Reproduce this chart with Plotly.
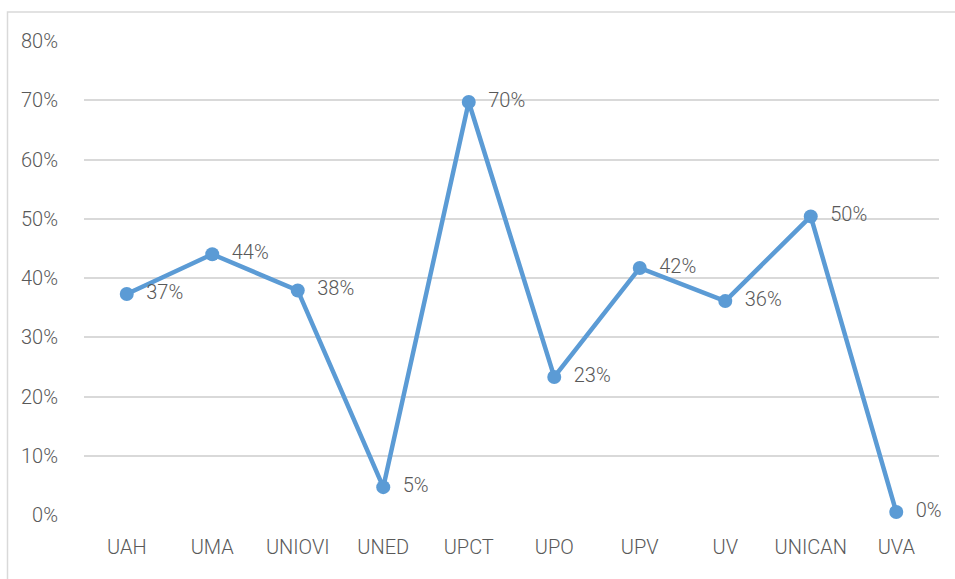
import plotly.graph_objects as go

categories = ["UAH", "UMA", "UNIOVI", "UNED", "UPCT", "UPO", "UPV", "UV", "UNICAN", "UVA"]
values = [0.373, 0.44, 0.379, 0.047, 0.697, 0.233, 0.417, 0.361, 0.504, 0.005]
labels = ["37%", "44%", "38%", "5%", "70%", "23%", "42%", "36%", "50%", "0%"]
y_ticks = [0, 0.1, 0.2, 0.3, 0.4, 0.5, 0.6, 0.7, 0.8]

FONT = "Roboto, Liberation Sans Narrow, DejaVu Sans Condensed, sans-serif"
GRAY = "#595959"
BLUE = "#5B9BD5"
FS = 20

fig = go.Figure()
fig.add_trace(go.Scatter(
    x=categories, y=values, mode="lines+markers+text",
    text=["  " + t for t in labels], textposition="middle right",
    textfont=dict(family=FONT, size=FS, color=GRAY, weight=300),
    line=dict(color=BLUE, width=4.5),
    marker=dict(color=BLUE, size=14),
    cliponaxis=False, showlegend=False,
))

W, H = 955, 579
L, R, T, B = 84, 16, 41, 64
pw, ph = W - L - R, H - T - B

fig.update_layout(
    width=W, height=H,
    margin=dict(l=L, r=R, t=T, b=B),
    paper_bgcolor="white", plot_bgcolor="white",
    font=dict(family=FONT, size=FS, color=GRAY, weight=300),
    xaxis=dict(range=[-0.5, len(categories) - 0.5], automargin=False,
               showgrid=False, zeroline=False, showline=False, ticks="",
               ticklabelstandoff=18,
               tickfont=dict(family=FONT, size=FS, color=GRAY, weight=300)),
    yaxis=dict(range=[0, 0.8], tickvals=y_ticks, tickformat=".0%",
               automargin=False,
               showgrid=True, gridcolor="#d9d9d9", gridwidth=1.5,
               zeroline=False, showline=False, ticks="",
               ticklabelstandoff=25,
               tickfont=dict(family=FONT, size=FS, color=GRAY, weight=300)),
    shapes=[dict(type="rect", xref="paper", yref="paper",
                 x0=(7.5 - L) / pw, x1=1.5, y0=-0.5, y1=(H - B - 12) / ph,
                 line=dict(color="#d9d9d9", width=1.5), layer="below")],
)

fig.write_html("out.html", config={"displayModeBar": False},
               post_script="document.body.style.margin='0px';document.body.style.overflow='hidden';")
